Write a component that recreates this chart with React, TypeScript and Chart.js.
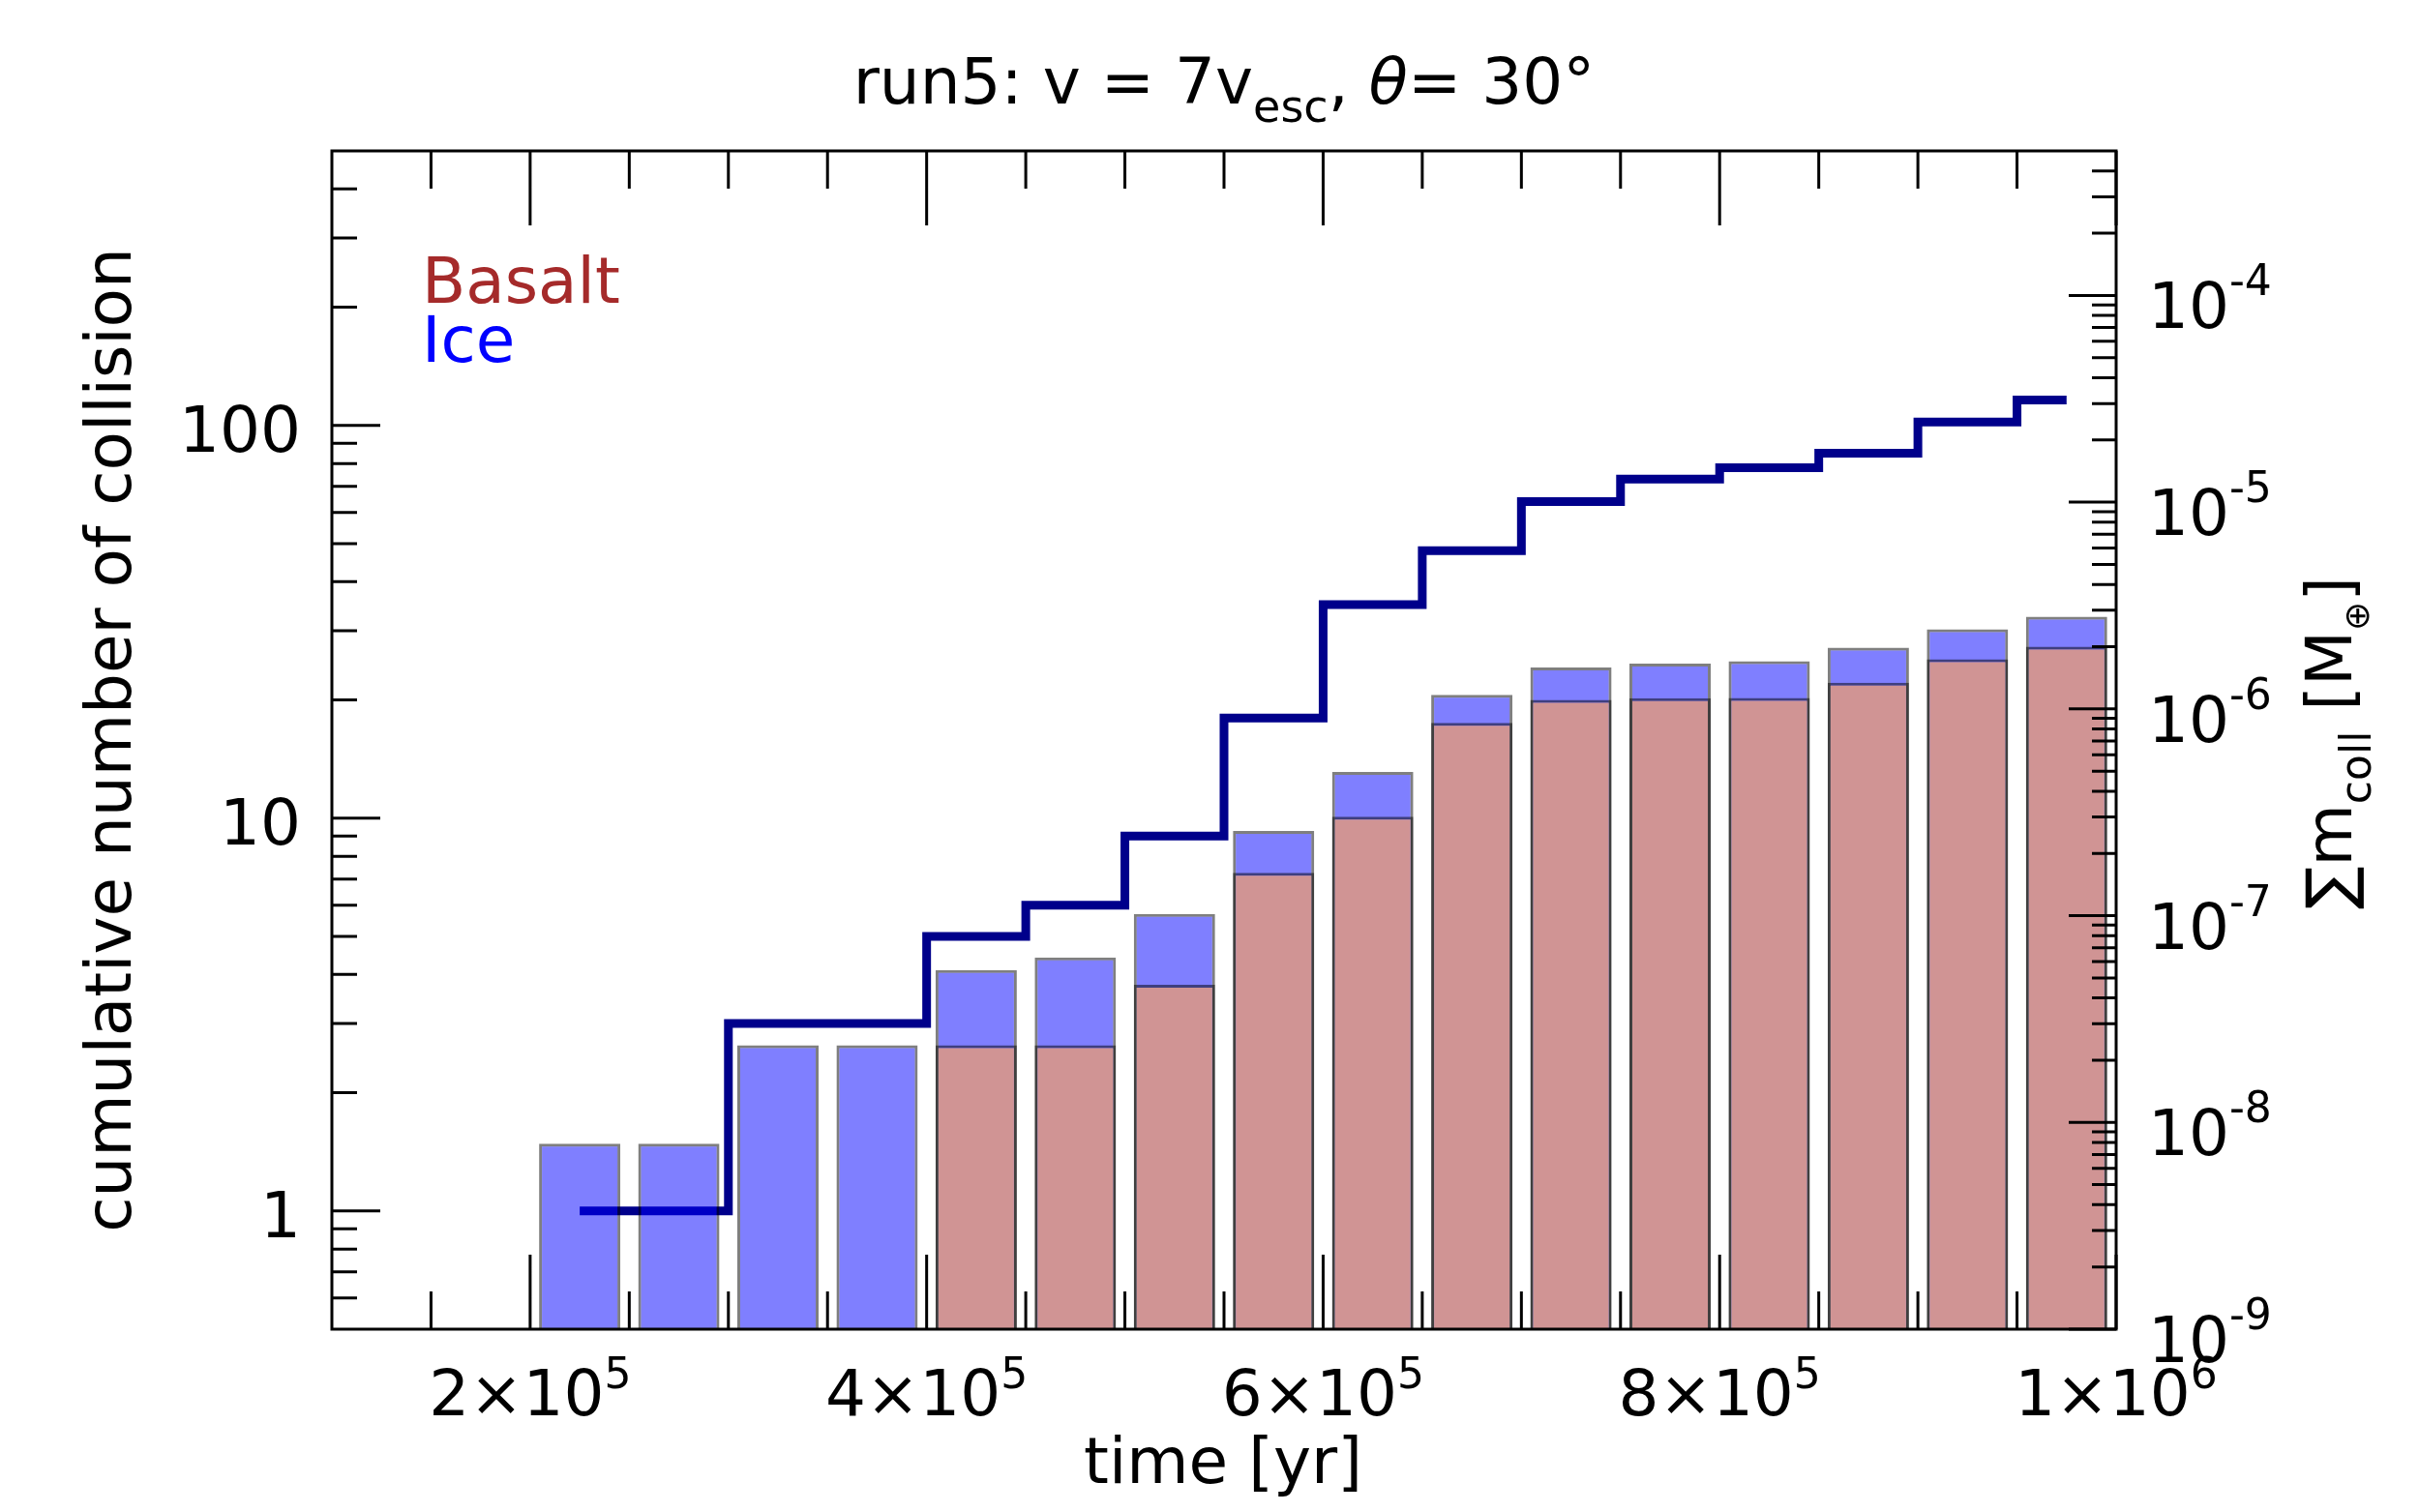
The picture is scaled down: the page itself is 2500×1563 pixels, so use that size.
import { useEffect, useRef } from 'react';
import { Chart, registerables } from 'chart.js';

Chart.register(...registerables);

// bin centres of the time histogram [yr]
const binCenters = [
  2.25e5, 2.75e5, 3.25e5, 3.75e5, 4.25e5, 4.75e5, 5.25e5, 5.75e5,
  6.25e5, 6.75e5, 7.25e5, 7.75e5, 8.25e5, 8.75e5, 9.25e5, 9.75e5,
];

// cumulative number of collisions (left axis)
const cumCollisions = [1, 1, 3, 3, 5, 6, 9, 18, 35, 48, 64, 73, 78, 85, 102, 116];

// cumulative collided mass [M_earth] (right axis): total (ice on top) and basalt part
const totalMass = [
  7.9e-9, 7.9e-9, 2.36e-8, 2.36e-8, 5.46e-8, 6.28e-8, 1.02e-7, 2.57e-7,
  4.96e-7, 1.17e-6, 1.585e-6, 1.655e-6, 1.7e-6, 1.98e-6, 2.43e-6, 2.79e-6,
];
const basaltMass = [
  null, null, null, null, 2.36e-8, 2.36e-8, 4.63e-8, 1.61e-7,
  3.01e-7, 8.55e-7, 1.107e-6, 1.127e-6, 1.13e-6, 1.34e-6, 1.74e-6, 2.0e-6,
];

// tick values
const xMajorTicks = [2e5, 4e5, 6e5, 8e5, 1e6];
const xMajorLabels = ['2', '4', '6', '8', '1'];
const xMajorExp = ['5', '5', '5', '5', '6'];
const xMinorTicks = [
  1.5e5, 2.5e5, 3e5, 3.5e5, 4.5e5, 5e5, 5.5e5, 6.5e5, 7e5, 7.5e5, 8.5e5, 9e5, 9.5e5,
];
const leftMajorTicks = [1, 10, 100];
const leftMinorTicks = [0.6, 0.7, 0.8, 0.9, 2, 3, 4, 5, 6, 7, 8, 9, 20, 30, 40, 50, 60, 70, 80, 90, 200, 300, 400];
const rightMajorTicks = [1e-9, 1e-8, 1e-7, 1e-6, 1e-5, 1e-4];
const rightMajorExp = ['-9', '-8', '-7', '-6', '-5', '-4'];
const rightMinorTicks = [
  2e-9, 3e-9, 4e-9, 5e-9, 6e-9, 7e-9, 8e-9, 9e-9,
  2e-8, 3e-8, 4e-8, 5e-8, 6e-8, 7e-8, 8e-8, 9e-8,
  2e-7, 3e-7, 4e-7, 5e-7, 6e-7, 7e-7, 8e-7, 9e-7,
  2e-6, 3e-6, 4e-6, 5e-6, 6e-6, 7e-6, 8e-6, 9e-6,
  2e-5, 3e-5, 4e-5, 5e-5, 6e-5, 7e-5, 8e-5, 9e-5,
  2e-4, 3e-4, 4e-4,
];

const FAMILY = '"DejaVu Sans", "Liberation Sans", sans-serif';
const BIG = 66;
const SMALL = 44;

type Run = { t: string; size: number; dy?: number; italic?: boolean };

function setFont(ctx: CanvasRenderingContext2D, r: Run) {
  ctx.font = `${r.italic ? 'italic ' : ''}${r.size}px ${FAMILY}`;
}

function drawRuns(
  ctx: CanvasRenderingContext2D,
  runs: Run[],
  x: number,
  y: number,
  align: 'left' | 'center' | 'right',
) {
  let w = 0;
  for (const r of runs) {
    setFont(ctx, r);
    w += ctx.measureText(r.t).width;
  }
  let cx = align === 'center' ? x - w / 2 : align === 'right' ? x - w : x;
  ctx.textAlign = 'left';
  ctx.textBaseline = 'alphabetic';
  for (const r of runs) {
    setFont(ctx, r);
    ctx.fillText(r.t, cx, y + (r.dy || 0));
    cx += ctx.measureText(r.t).width;
  }
}

const decorations = {
  id: 'decorations',
  afterDatasetsDraw(chart: any) {
    const { ctx, chartArea: a, scales } = chart;
    const xs = scales.x;
    const yl = scales.y;
    const yr = scales.y2;
    ctx.save();

    // inward ticks
    ctx.strokeStyle = '#000';
    ctx.lineWidth = 3;
    ctx.beginPath();
    const xTick = (v: number, len: number) => {
      const px = xs.getPixelForValue(v);
      ctx.moveTo(px, a.bottom);
      ctx.lineTo(px, a.bottom - len);
      ctx.moveTo(px, a.top);
      ctx.lineTo(px, a.top + len);
    };
    xMinorTicks.forEach((v) => xTick(v, 39));
    xMajorTicks.forEach((v) => xTick(v, 77));
    const lTick = (v: number, len: number) => {
      const py = yl.getPixelForValue(v);
      ctx.moveTo(a.left, py);
      ctx.lineTo(a.left + len, py);
    };
    leftMinorTicks.forEach((v) => lTick(v, 26));
    leftMajorTicks.forEach((v) => lTick(v, 50));
    const rTick = (v: number, len: number) => {
      const py = yr.getPixelForValue(v);
      ctx.moveTo(a.right, py);
      ctx.lineTo(a.right - len, py);
    };
    rightMinorTicks.forEach((v) => rTick(v, 25));
    rightMajorTicks.forEach((v) => rTick(v, 49));
    ctx.stroke();

    // frame
    ctx.strokeRect(a.left, a.top, a.right - a.left, a.bottom - a.top);

    ctx.fillStyle = '#000';

    // x tick labels
    xMajorTicks.forEach((v, i) => {
      drawRuns(
        ctx,
        [
          { t: `${xMajorLabels[i]}\u00d710`, size: BIG },
          { t: xMajorExp[i], size: SMALL, dy: -28 },
        ],
        xs.getPixelForValue(v),
        1463,
        'center',
      );
    });

    // left tick labels
    leftMajorTicks.forEach((v) => {
      drawRuns(ctx, [{ t: String(v), size: BIG }], 311, yl.getPixelForValue(v) + 27, 'right');
    });

    // right tick labels
    rightMajorTicks.forEach((v, i) => {
      drawRuns(
        ctx,
        [
          { t: '10', size: BIG },
          { t: rightMajorExp[i], size: SMALL, dy: -34 },
        ],
        2220,
        yr.getPixelForValue(v) + 34,
        'left',
      );
    });

    // title
    drawRuns(
      ctx,
      [
        { t: 'run5: v = 7v', size: BIG },
        { t: 'esc', size: 46, dy: 19 },
        { t: ', ', size: BIG },
        { t: '\u03b8', size: BIG, italic: true },
        { t: '= 30\u00b0', size: BIG },
      ],
      1265,
      107,
      'center',
    );

    // x axis title
    drawRuns(ctx, [{ t: 'time [yr]', size: BIG }], (a.left + a.right) / 2 - 1, 1533, 'center');

    // left axis title
    ctx.save();
    ctx.translate(135, (a.top + a.bottom) / 2);
    ctx.rotate(-Math.PI / 2);
    drawRuns(ctx, [{ t: 'cumulative number of collision', size: BIG }], 0, 0, 'center');
    ctx.restore();

    // right axis title
    ctx.save();
    ctx.translate(2430, (a.top + a.bottom) / 2 + 3);
    ctx.rotate(-Math.PI / 2);
    drawRuns(
      ctx,
      [
        { t: '\u2211m', size: BIG },
        { t: 'coll', size: SMALL, dy: 20 },
        { t: ' [M', size: BIG },
        { t: '\u2295', size: 36, dy: 18 },
        { t: ']', size: BIG },
      ],
      0,
      0,
      'center',
    );
    ctx.restore();

    // legend
    ctx.fillStyle = '#A52A2A';
    drawRuns(ctx, [{ t: 'Basalt', size: BIG }], 436, 313, 'left');
    ctx.fillStyle = '#0000FF';
    drawRuns(ctx, [{ t: 'Ice', size: BIG }], 436, 374, 'left');

    ctx.restore();
  },
};

export default function App() {
  const canvasRef = useRef<HTMLCanvasElement>(null);
  const chartRef = useRef<Chart | null>(null);

  useEffect(() => {
    if (!canvasRef.current) return;
    if (chartRef.current) chartRef.current.destroy();

    const hidden = {
      grid: { display: false },
      border: { display: false },
      ticks: { display: false },
    };

    chartRef.current = new Chart(canvasRef.current, {
      type: 'bar',
      data: {
        datasets: [
          {
            type: 'line',
            label: 'collisions',
            data: binCenters.map((x, i) => ({ x, y: cumCollisions[i] })),
            yAxisID: 'y',
            borderColor: '#00008B',
            borderWidth: 9,
            stepped: 'middle',
            pointRadius: 0,
            fill: false,
            borderCapStyle: 'butt',
            borderJoinStyle: 'miter',
            order: 3,
          } as any,
          {
            type: 'bar',
            label: 'Ice',
            data: binCenters.map((x, i) => ({ x, y: totalMass[i] })),
            yAxisID: 'y2',
            backgroundColor: 'rgba(0, 0, 255, 0.5)',
            borderColor: 'rgba(0, 0, 0, 0.5)',
            borderWidth: 3,
            grouped: false,
            barPercentage: 0.82,
            categoryPercentage: 1,
            order: 2,
          },
          {
            type: 'bar',
            label: 'Basalt',
            data: binCenters.map((x, i) => ({ x, y: basaltMass[i] })),
            yAxisID: 'y2',
            backgroundColor: '#D09494',
            borderColor: 'rgba(0, 0, 0, 0.5)',
            borderWidth: 3,
            grouped: false,
            barPercentage: 0.82,
            categoryPercentage: 1,
            order: 1,
          },
        ],
      },
      options: {
        responsive: false,
        devicePixelRatio: 1,
        animation: false,
        layout: { padding: { top: 156, left: 0, right: 0, bottom: 0 } },
        plugins: {
          legend: { display: false },
          tooltip: { enabled: false },
          title: { display: false },
        },
        scales: {
          x: {
            type: 'linear',
            min: 1e5,
            max: 1e6,
            offset: false,
            grid: { display: false, offset: false },
            border: { display: false },
            ticks: { display: false, stepSize: 1e5 },
            afterFit: (s: any) => {
              s.height = 189;
            },
          },
          y: {
            type: 'logarithmic',
            position: 'left',
            min: 0.5,
            max: 500,
            ...hidden,
            afterFit: (s: any) => {
              s.width = 343;
            },
          },
          y2: {
            type: 'logarithmic',
            position: 'right',
            min: 1e-9,
            max: 5e-4,
            ...hidden,
            afterFit: (s: any) => {
              s.width = 313;
            },
          },
        },
      } as any,
      plugins: [decorations],
    });

    return () => {
      if (chartRef.current) {
        chartRef.current.destroy();
        chartRef.current = null;
      }
    };
  }, []);

  return (
    <div style={{ position: 'absolute', left: 0, top: 0, width: 2500, height: 1563, background: '#fff' }}>
      <canvas ref={canvasRef} width={2500} height={1563} style={{ display: 'block' }}></canvas>
    </div>
  );
}
